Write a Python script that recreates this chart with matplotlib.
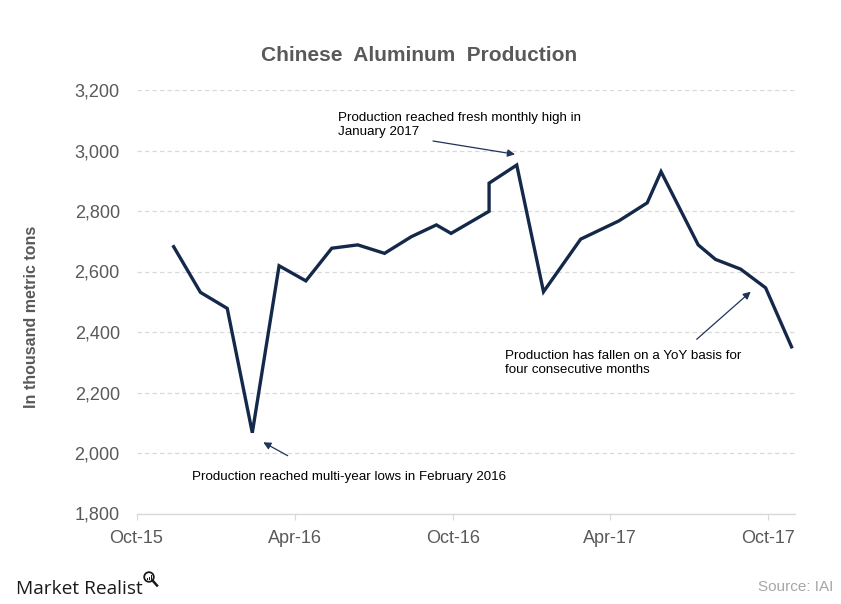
import matplotlib
matplotlib.use("Agg")
import matplotlib.pyplot as plt
import matplotlib.dates as mdates
from matplotlib.patches import Circle, Rectangle
from matplotlib.lines import Line2D
import pandas as pd

# ---- data ----
dates = ["2015-11-13", "2015-12-14", "2016-01-14", "2016-02-12", "2016-03-14",
         "2016-04-14", "2016-05-14", "2016-06-13", "2016-07-14", "2016-08-14",
         "2016-09-12", "2016-09-29", "2016-11-12", "2016-11-12", "2016-12-14",
         "2017-01-14", "2017-02-26", "2017-04-11", "2017-05-14", "2017-05-30",
         "2017-07-12", "2017-08-01", "2017-08-30", "2017-09-28", "2017-10-28"]
production = [2682, 2531, 2478, 2067, 2619,
              2569, 2677, 2688, 2660, 2715,
              2754, 2726, 2799, 2892, 2952,
              2533, 2707, 2767, 2827, 2930,
              2688, 2640, 2608, 2546, 2351]
y_ticks = [1800, 2000, 2200, 2400, 2600, 2800, 3000, 3200]
title = "Chinese  Aluminum  Production"
y_label = "In thousand metric tons"

FONT = "Liberation Sans"
plt.rcParams['font.family'] = [FONT, 'DejaVu Sans']

fig = plt.figure(figsize=(8.41, 6.04), dpi=100)
W, H = 841, 604
ax = fig.add_axes([136.5 / W, 1 - 513.5 / H, (795 - 136.5) / W, (513.5 - 90) / H])

x = pd.to_datetime(dates)
ax.plot(x, production, color="#14294a", lw=2.4, solid_joinstyle="miter", zorder=3)

ax.set_xlim(pd.Timestamp("2015-10-01"), pd.Timestamp("2017-11-01"))
ax.set_ylim(1800, 3200)
ax.set_yticks(y_ticks)
ax.yaxis.set_major_formatter(matplotlib.ticker.FuncFormatter(lambda v, p: f"{int(v):,}"))
ax.xaxis.set_major_locator(mdates.MonthLocator(bymonth=[4, 10]))
ax.xaxis.set_major_formatter(mdates.DateFormatter("%b-%y"))

for s in ["top", "right", "left"]:
    ax.spines[s].set_visible(False)
ax.spines["bottom"].set_color("#d9d9d9")
ax.spines["bottom"].set_linewidth(1.0)

ax.grid(axis="y", color="#d9d9d9", lw=0.9, linestyle=(0, (3.5, 2.5)), zorder=0)
ax.set_axisbelow(True)
ax.tick_params(axis="y", length=0, pad=12, labelsize=13, labelcolor="#595959")
ax.tick_params(axis="x", length=4, color="#d9d9d9", pad=8, labelsize=13, labelcolor="#595959")

fig.text(31.7 / W, 1 - 316.7 / H, y_label, rotation=90, ha="center", va="center",
         fontsize=11.5, fontweight="bold", color="#595959")
fig.text(419.5 / W, 1 - 60.7 / H, title, ha="center", va="baseline",
         fontsize=15, fontweight="bold", color="#595959")

def axfrac(px, py):
    return ((px - 136.5) / (795 - 136.5), (513.5 - py) / (513.5 - 90))

tkw = dict(fontsize=9.6, color="black", va="baseline", ha="left", linespacing=1.18)
ax.text(*axfrac(338.3, 135), "Production reached fresh monthly high in\nJanuary 2017",
        transform=ax.transAxes, **tkw)
ax.text(*axfrac(192.3, 480), "Production reached multi-year lows in February 2016",
        transform=ax.transAxes, **tkw)
ax.text(*axfrac(505, 373), "Production has fallen on a YoY basis for\nfour consecutive months",
        transform=ax.transAxes, **tkw)

akw = dict(arrowstyle="-|>", color="#1f3458", lw=0.9, mutation_scale=11, shrinkA=0, shrinkB=0)
for tail, head in [((433, 141), (515, 154.3)), ((287.7, 455.7), (263.3, 442.3)),
                   ((696.7, 339.3), (750.7, 291.7))]:
    ax.annotate("", xy=axfrac(*head), xytext=axfrac(*tail), xycoords="axes fraction",
                textcoords="axes fraction", arrowprops=akw)

# footer
fig.text(16 / W, 1 - 594.3 / H, "Market Realist", fontsize=13.8, color="#1a1a1a",
         family=["Open Sans", "DejaVu Sans"], va="baseline", ha="left")
fig.text(833 / W, 1 - 591 / H, "Source: IAI", fontsize=11, color="#a6a6a6",
         ha="right", va="baseline")
# small magnifier logo
circ = Circle((149, H - 577), 4.8, transform=None, fill=False, ec="#1a1a1a", lw=1.3)
fig.patches.append(circ)
for bx, bh in [(146.6, 2), (148.6, 3), (150.6, 4.2)]:
    fig.patches.append(Rectangle((bx, H - 579.5), 1.2, bh, transform=None,
                                 fc="#1a1a1a", ec="none"))
fig.lines.append(Line2D([152.8, 157], [H - 580.8, H - 585.5], transform=None,
                        color="#1a1a1a", lw=1.8))

fig.savefig("out.png", dpi=100)
